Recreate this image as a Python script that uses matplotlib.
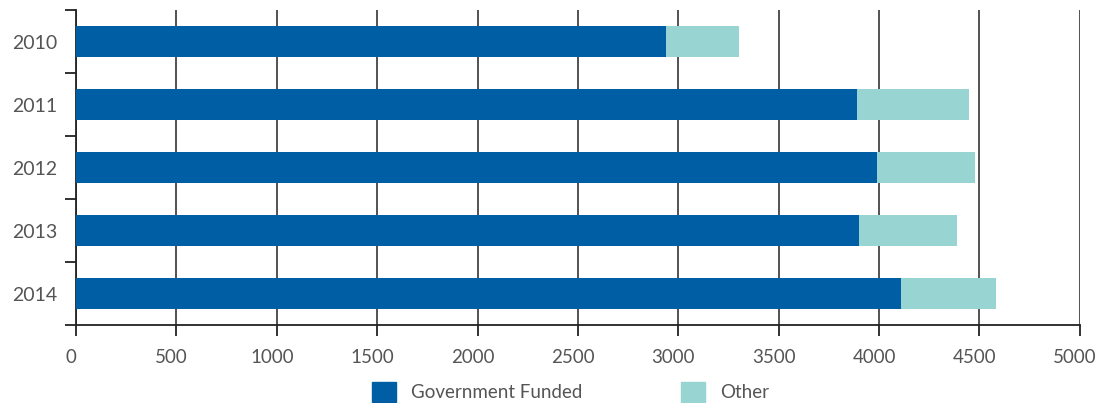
import numpy as np
import matplotlib.pyplot as plt
import matplotlib.transforms as mtransforms
from matplotlib.patches import Patch

plt.rcParams['font.family'] = ['Lato', 'DejaVu Sans']

years = ['2010', '2011', '2012', '2013', '2014']
gov = [2940, 3890, 3990, 3900, 4110]
other = [360, 560, 490, 490, 470]

blue = '#005EA5'
teal = '#98D5D2'
txt = '#555555'

fig = plt.figure(figsize=(11.08, 4.03), dpi=100)
ax = fig.add_axes([0.0686, 0.1935, 0.906, 0.7815])

y = np.arange(len(years))
ax.barh(y, gov, height=0.5, color=blue, zorder=3)
ax.barh(y, other, left=gov, height=0.5, color=teal, zorder=3)

ax.set_xlim(0, 5000)
ax.set_ylim(len(years) - 0.5, -0.5)
ax.set_xticks(np.arange(0, 5001, 500))
ax.xaxis.grid(True, color='#444444', linewidth=1.3, zorder=0)
ax.set_axisbelow(True)

# ticks on category boundaries, labels in the middle
ax.set_yticks(np.arange(-0.5, len(years)), minor=False)
ax.set_yticklabels([])
ax.set_yticks(y, minor=True)
ax.set_yticklabels(years, minor=True)
ax.tick_params(axis='y', which='minor', length=0, pad=13.5, labelsize=14, labelcolor=txt)
ax.tick_params(axis='y', which='major', length=8, width=1.3, color='#222222')
ax.tick_params(axis='x', length=8, width=1.3, color='#222222', pad=9,
               labelsize=13.5, labelcolor=txt)

off = mtransforms.ScaledTranslation(-5 / 100, 0, fig.dpi_scale_trans)
for lab in ax.get_xticklabels():
    lab.set_transform(lab.get_transform() + off)

for s in ['top', 'right']:
    ax.spines[s].set_visible(False)
for s in ['left', 'bottom']:
    ax.spines[s].set_color('#222222')
    ax.spines[s].set_linewidth(1.3)

handles = [Patch(color=blue, label='Government Funded'), Patch(color=teal, label='Other')]
leg = fig.legend(handles=handles, loc='center', bbox_to_anchor=(0.515, 0.027), ncol=2,
                 frameon=False, fontsize=13.5, handlelength=1.25, handleheight=1.25,
                 handletextpad=0.8, columnspacing=5.3, borderpad=0)
for t in leg.get_texts():
    t.set_color(txt)

fig.savefig('out.png', dpi=100)
